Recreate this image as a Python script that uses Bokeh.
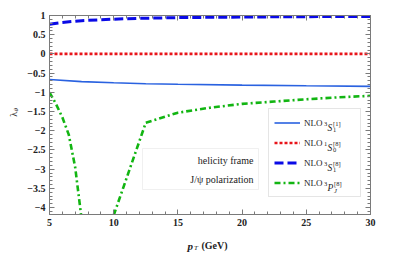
import numpy as np
from bokeh.plotting import figure
from bokeh.layouts import column, row
from bokeh.models import (FixedTicker, LinearAxis, Range1d, Legend, LegendItem,
                          Label, BoxAnnotation, CustomJSTickFormatter)
from bokeh.embed import file_html
from bokeh.resources import INLINE

# ---------------- data ----------------
pt_3s1_1 = [5, 7.5, 10, 12.5, 15, 20, 25, 30]
lam_3s1_1 = [-0.665, -0.72, -0.75, -0.775, -0.79, -0.812, -0.83, -0.845]

pt_1s0_8 = [5, 10, 15, 20, 25, 30]
lam_1s0_8 = [0, 0, 0, 0, 0, 0]

pt_3s1_8 = [5, 6, 7.5, 10, 12.5, 15, 20, 25, 30]
lam_3s1_8 = [0.775, 0.82, 0.865, 0.905, 0.93, 0.945, 0.96, 0.97, 0.975]

nan = float("nan")
pt_3pj_8 = [5, 5.5, 6, 6.5, 7, 7.5, nan, 10, 12.5, 15, 17.5, 20, 22.5, 25, 27.5, 30]
lam_3pj_8 = [-1.0, -1.3, -1.65, -2.1, -2.95, -4.3, nan, -4.2, -1.79, -1.53, -1.40,
             -1.30, -1.24, -1.18, -1.13, -1.09]

x_major = [5, 10, 15, 20, 25, 30]
x_minor = list(range(5, 31))
y_major = [1, 0.5, 0, -0.5, -1, -1.5, -2, -2.5, -3, -3.5, -4]
y_minor = [round(1 - 0.1 * i, 1) for i in range(52)]

X_RANGE = (5, 30)
Y_RANGE = (-4.18, 1.0)

# ---------------- layout constants (page pixels, page has no margin) ----------------
YLAB_W = 22                 # strip holding the y title
XLAB_H = 20                 # strip holding the x title
FL, FT = 49, 15             # frame left/top on the page
FW, FH = 321, 199
TOTAL_W, TOTAL_H = 405, 252
BL = FL - YLAB_W
BT = FT
BB = 18
BR = TOTAL_W - FL - FW
MAIN_H = FT + FH + BB
XS = FW / (X_RANGE[1] - X_RANGE[0])
YS = FH / (Y_RANGE[1] - Y_RANGE[0])


def at(wx, wy):
    """page pixel -> data coordinates of the main plot (annotations only)"""
    return X_RANGE[0] + (wx - FL) / XS, Y_RANGE[1] - (wy - FT) / YS


SERIF = "Liberation Serif"
AX = "#7a7a7a"
TXT = "#222222"

p = figure(frame_width=FW, frame_height=FH, output_backend="svg", toolbar_location=None,
           x_range=Range1d(*X_RANGE), y_range=Range1d(*Y_RANGE),
           min_border_left=BL, min_border_right=BR, min_border_top=BT,
           min_border_bottom=BB, x_axis_location=None, y_axis_location=None)
p.grid.visible = False
p.outline_line_color = AX
p.background_fill_color = "white"
p.border_fill_color = "white"

xt = FixedTicker(ticks=x_major, minor_ticks=x_minor)
yt = FixedTicker(ticks=y_major, minor_ticks=y_minor)
yfmt = CustomJSTickFormatter(code="return tick.toString().replace('-', '\u2212');")


def style_axis(ax, show):
    ax.axis_line_color = AX
    ax.major_tick_line_color = AX
    ax.minor_tick_line_color = AX
    ax.major_tick_in, ax.major_tick_out = 5, 0
    ax.minor_tick_in, ax.minor_tick_out = 3, 0
    if show:
        ax.major_label_text_font = SERIF
        ax.major_label_text_font_style = "bold"
        ax.major_label_text_font_size = "10px"
        ax.major_label_text_color = TXT
        ax.major_label_standoff = 4
    else:
        ax.major_label_text_alpha = 0
        ax.major_label_text_font_size = "1px"
        ax.major_label_standoff = 0


for side in ["below", "above"]:
    ax = LinearAxis(ticker=xt)
    style_axis(ax, side == "below")
    p.add_layout(ax, side)

for side in ["left", "right"]:
    ax = LinearAxis(ticker=yt, formatter=yfmt)
    style_axis(ax, side == "left")
    p.add_layout(ax, side)

# ---------------- curves ----------------
r1 = p.line(pt_3s1_1, lam_3s1_1, line_color="#2a62e0", line_width=1.6)
r2 = p.line(pt_1s0_8, lam_1s0_8, line_color="#e8141a", line_width=2.6, line_dash="3 2")
r3 = p.line(pt_3s1_8, lam_3s1_8, line_color="#0a0ae6", line_width=3, line_dash="9 4")
r4 = p.line(pt_3pj_8, lam_3pj_8, line_color="#12b512", line_width=2.6, line_dash="6 3 2 3")

# ---------------- legend ----------------
legend = Legend(items=[LegendItem(label="NLO", renderers=[r]) for r in (r1, r2, r3, r4)],
                location=(268 - FL, (FT + FH) - 197),
                orientation="vertical", padding=5, spacing=3, margin=0,
                glyph_height=17, glyph_width=26, label_height=17, label_width=51,
                label_standoff=4, label_text_font=SERIF, label_text_font_size="9px",
                label_text_color=TXT, border_line_color="#cccccc",
                background_fill_alpha=0)
p.add_layout(legend)


def label(fig, x, y, text, size, style="normal", align="left", baseline="alphabetic", angle=0):
    fig.add_layout(Label(x=x, y=y, text=text, text_font=SERIF, text_font_size=size,
                         text_font_style=style, text_color=TXT, text_align=align,
                         text_baseline=baseline, angle=angle))


def mlabel(wx, wy, *args, **kw):
    x, y = at(wx, wy)
    label(p, x, y, *args, **kw)


rows = [
    ("3", "S", "1", "[1]"),
    ("1", "S", "0", "[8]"),
    ("3", "S", "1", "[8]"),
    ("3", "P", "J", "[8]"),
]
for i, (pre, letter, sub, sup) in enumerate(rows):
    cy = 123.5 + 20 * i
    mlabel(323.5, cy - 0.5, pre, "6.5px")
    mlabel(327, cy + 3.5, letter, "9.5px", "italic")
    xs = 332.5 if letter == "S" else 333.5
    mlabel(xs, cy + 6, sub, "6.5px", "italic" if sub == "J" else "normal")
    mlabel(xs, cy - 1, sup, "6.5px")

# ---------------- text box ----------------
bl, bt = at(142, 148)
br, bb = at(258, 189)
p.add_layout(BoxAnnotation(left=bl, right=br, top=bt, bottom=bb, fill_color="white",
                           fill_alpha=1, line_color="#cccccc", line_width=1))
mlabel(253, 160, "helicity frame", "10px", align="right", baseline="middle")
mlabel(253, 179, "J/\u03c8 polarization", "10px", align="right", baseline="middle")


# ---------------- title strips ----------------
def strip(w, h):
    f = figure(width=w, height=h, output_backend="svg", toolbar_location=None,
               x_range=Range1d(0, w), y_range=Range1d(0, h), min_border=0,
               x_axis_location=None, y_axis_location=None)
    f.grid.visible = False
    f.outline_line_color = None
    f.background_fill_color = "white"
    f.border_fill_color = "white"
    return f


ylab = strip(YLAB_W, MAIN_H)
label(ylab, 13, MAIN_H - 118, "\u03bb", "10px", angle=np.pi / 2)
label(ylab, 15, MAIN_H - 112, "\u03b8", "7px", "italic", angle=np.pi / 2)

xlab = strip(TOTAL_W, XLAB_H)
base = TOTAL_H - 245
label(xlab, 187, base, "p", "11px", "bold italic")
label(xlab, 193.5, base - 2, "T", "7px", "italic")
label(xlab, 201, base, "(GeV)", "10px", "bold")

layout = column(row(ylab, p, spacing=0), xlab, spacing=0)
open("out.html", "w").write(file_html(layout, INLINE))
